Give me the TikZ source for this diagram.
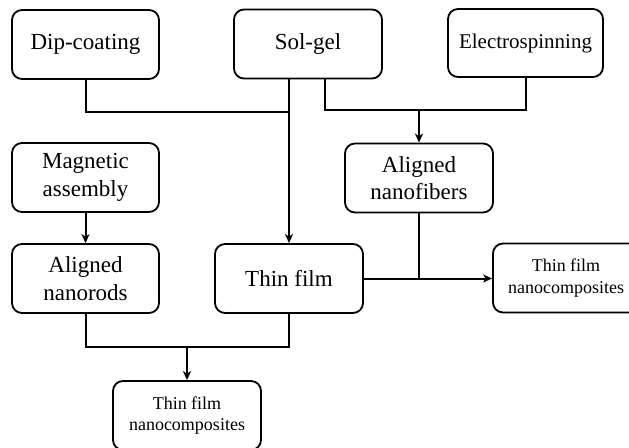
\documentclass[tikz,border=0pt]{standalone}
\usepackage{fontspec}
\setmainfont{Liberation Serif}
\usetikzlibrary{arrows.meta}
\tikzset{
  box/.style={draw, line width=1.8pt, rounded corners=10pt, minimum width=147pt, minimum height=69pt, align=center, inner sep=2pt, font=\fontsize{23}{27.6}\selectfont},
  smallbox/.style={box, font=\fontsize{18}{21.6}\selectfont},
  line/.style={line width=2pt},
  arr/.style={line width=2pt, -{Stealth[length=9pt,width=8pt,inset=2.5pt]}}
}
\begin{document}
\begin{tikzpicture}[x=1pt,y=-1pt]
\useasboundingbox (0,0) rectangle (629,447);
\clip (0,0) rectangle (629,447);
\node[box] (dip) at (85.5,44.5) {Dip-coating};
\node[box, minimum width=148pt] (solgel) at (308,44) {Sol-gel};
\node[box, minimum width=155pt, minimum height=68pt, font=\fontsize{21}{25}\selectfont] (elec) at (525.5,43) {Electrospinning};
\node[box] (mag) at (85.5,177.5) {Magnetic\\assembly};
\node[box, minimum width=148pt] (fib) at (419,178) {Aligned\\nanofibers};
\node[box] (rods) at (85.5,278.5) {Aligned\\nanorods};
\node[box, minimum width=148pt] (thin) at (289,278.5) {Thin film};
\node[smallbox, minimum width=146pt] (comp2) at (566,278) {Thin film\\nanocomposites};
\node[smallbox, minimum width=148pt] (comp1) at (187,415.5) {Thin film\\nanocomposites};
\coordinate (j1) at (289,112);
\coordinate (j2) at (325,110);
\coordinate (j4) at (187,347);
% Dip-coating + Sol-gel -> Thin film
\draw[line] (dip.south) |- (j1);
\draw[arr] (thin.north |- solgel.south) -- (thin.north);
% Sol-gel + Electrospinning -> Aligned nanofibers
\draw[line] (solgel.south -| j2) |- (elec.south |- j2) -- (elec.south);
\draw[arr] (fib.north |- j2) -- (fib.north);
% Magnetic assembly -> Aligned nanorods
\draw[arr] (mag.south) -- (rods.north);
% Thin film + nanofibers -> nanocomposites
\draw[arr] (thin.east) -- (thin.east -| comp2.west);
\draw[line] (fib.south) -- (fib.south |- thin.east);
% Aligned nanorods + Thin film -> nanocomposites
\draw[line] (rods.south) |- (j4) -| (thin.south);
\draw[arr] (j4) -- (comp1.north);
\end{tikzpicture}
\end{document}
